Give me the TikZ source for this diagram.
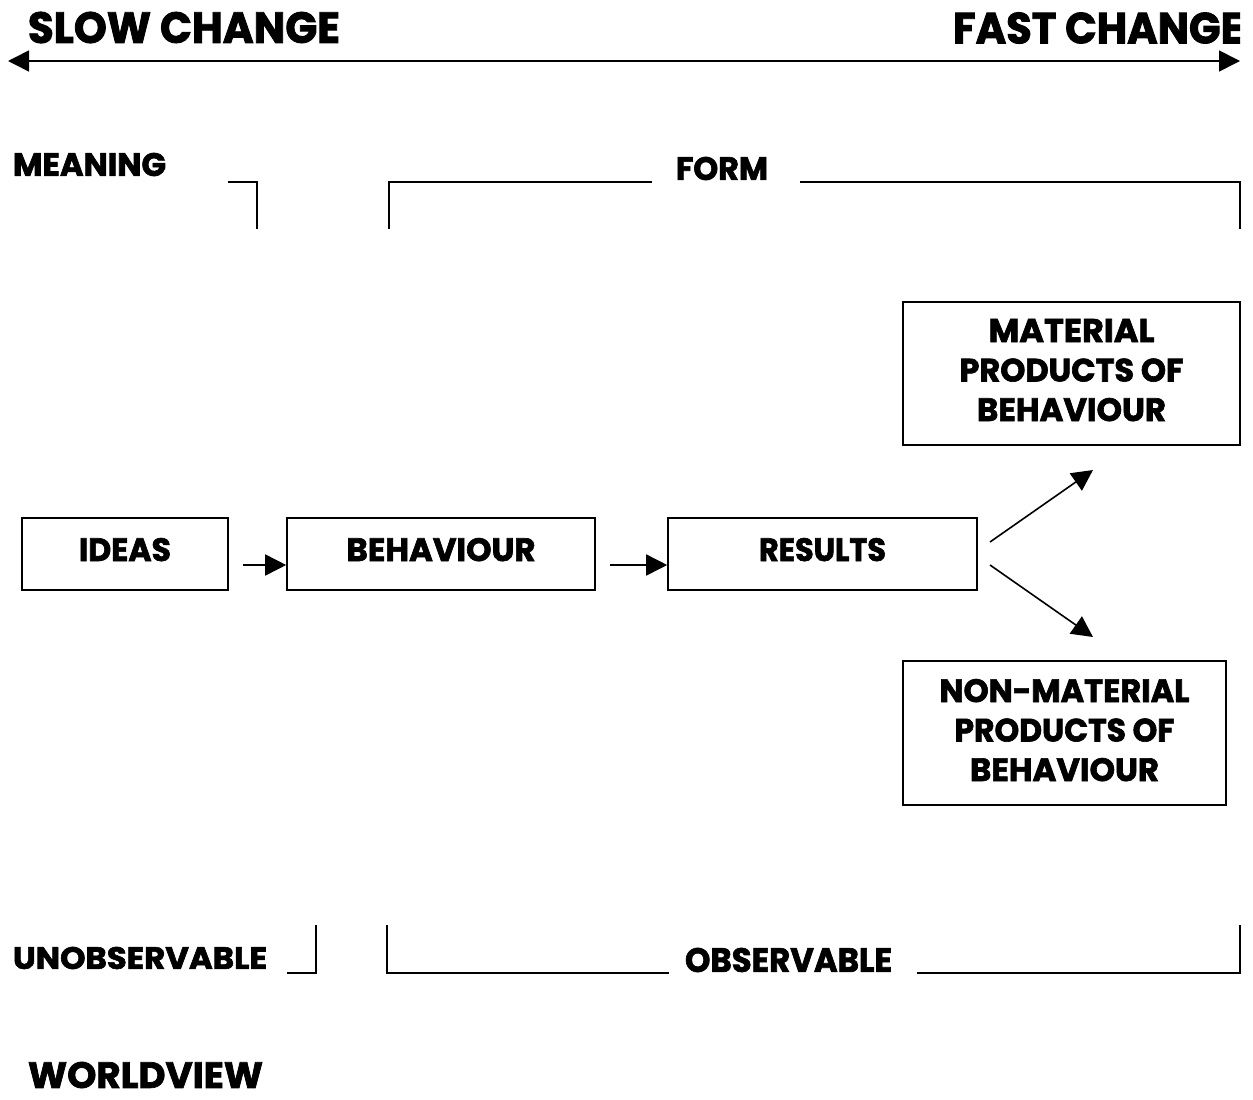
\documentclass[tikz,border=0pt]{standalone}
\usepackage{fontspec}
\setmainfont{Poppins}[BoldFeatures={FakeBold=2}]
\usepackage{graphicx}
\usetikzlibrary{arrows.meta}
\newcommand{\fitxt}[3]{\resizebox{#1pt}{#2pt}{\bfseries #3}}
\newcommand{\lowstrut}[1]{\rule[-#1pt]{0pt}{#1pt}}
\begin{document}
\begin{tikzpicture}[x=1pt,y=-1pt,
  lbl/.style={inner sep=0pt, anchor=center},
  boxnode/.style={draw, line width=1.6pt, inner sep=0pt, align=center, font=\fontsize{20}{39.5}\selectfont},
  ln/.style={line width=1.6pt},
  arr/.style={line width=1.6pt, -{Triangle[length=21pt,width=21pt]}},
  dbl/.style={line width=1.6pt, {Triangle[length=21pt,width=21pt]}-{Triangle[length=21pt,width=21pt]}}]
\useasboundingbox (0,0) rectangle (1253,1100);
% top scale
\node[lbl] (slow) at (184,27.5) {\fitxt{312}{31}{SLOW CHANGE}};
\begin{scope}
\clip (0,0) rectangle (1240,100);
\node[lbl] (fast) at (1098,28) {\fitxt{290}{31}{FAST CHANGE}};
\end{scope}
\coordinate (tl) at (8,61);
\coordinate (tr) at (1240,61);
\draw[dbl] (tl) -- (tr);
% meaning / form
\node[lbl] (meaning) at (89.5,164.5) {\fitxt{153}{23}{MEANING}};
\node[lbl] (form) at (722,168.5) {\fitxt{92}{23}{FORM}};
\draw[ln] (228,182) -- (257,182) -- (257,229);
\draw[ln] (389,229) -- (389,182) -- (652,182);
\draw[ln] (800,182) -- (1240,182) -- (1240,229);
% boxes
\node[boxnode, minimum width=206pt, minimum height=72pt] (ideas) at (125,554) {\fitxt{92}{23}{IDEAS}\lowstrut{9}};
\node[boxnode, minimum width=308pt, minimum height=72pt] (behaviour) at (441,554) {\fitxt{189}{23}{BEHAVIOUR}\lowstrut{9}};
\node[boxnode, minimum width=309pt, minimum height=72pt] (results) at (822.5,554) {\fitxt{127}{23}{RESULTS}\lowstrut{9}};
\node[boxnode, minimum width=337pt, minimum height=143pt] (material) at (1071.5,373.5)
  {\fitxt{166}{23}{MATERIAL}\\\fitxt{224}{23}{PRODUCTS OF}\\\fitxt{189}{23}{BEHAVIOUR}\lowstrut{7}};
\node[boxnode, minimum width=323pt, minimum height=144pt] (nonmaterial) at (1064.5,733)
  {\fitxt{250}{23}{NON-MATERIAL}\\\fitxt{220}{23}{PRODUCTS OF}\\\fitxt{189}{23}{BEHAVIOUR}\lowstrut{6}};
% arrows
\draw[arr] ([xshift=14pt,yshift=-11pt]ideas.east) -- ([yshift=-11pt]behaviour.west);
\draw[arr] ([xshift=14pt,yshift=-11pt]behaviour.east) -- ([yshift=-11pt]results.west);
\coordinate (ru) at (990,542);
\coordinate (rd) at (990,565);
\coordinate (mu) at (1093,470);
\coordinate (md) at (1093,637);
\draw[arr] (ru) -- (mu);
\draw[arr] (rd) -- (md);
% observable
\node[lbl] (unobs) at (140,958) {\fitxt{254}{22}{UNOBSERVABLE}};
\node[lbl] (obs) at (788.5,960) {\fitxt{207}{24}{OBSERVABLE}};
\draw[ln] (287,973) -- (316,973) -- (316,925);
\draw[ln] (387,925) -- (387,973) -- (669,973);
\draw[ln] (917,973) -- (1240,973) -- (1240,925);
\node[lbl] (worldview) at (145.5,1075) {\fitxt{235}{26}{WORLDVIEW}};
\end{tikzpicture}
\end{document}
